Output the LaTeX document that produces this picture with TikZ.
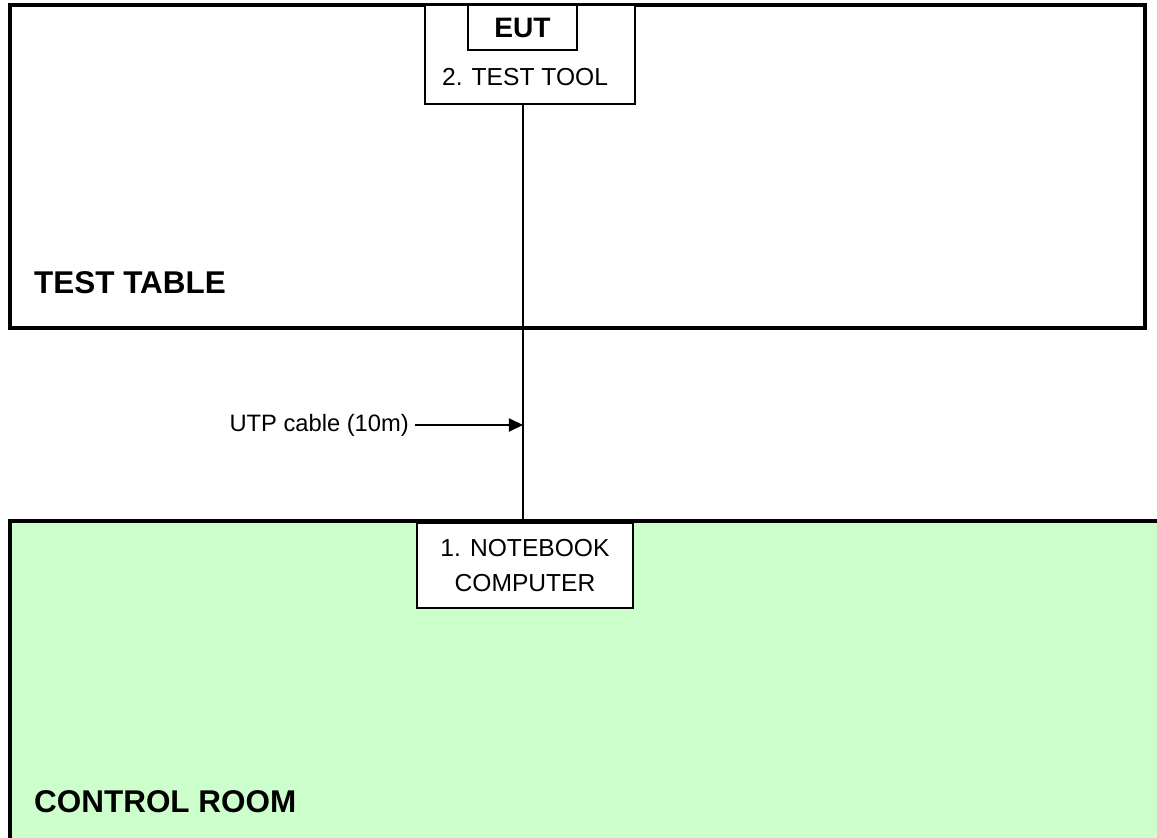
\documentclass[tikz,border=0pt]{standalone}
\usepackage{fontspec}
\setmainfont{Liberation Sans}
\usepackage{xcolor}
\usetikzlibrary{arrows.meta}

\definecolor{roomgreen}{HTML}{CCFFCC}

\begin{document}
\begin{tikzpicture}[
    x=0.02cm, y=-0.02cm,
    area/.style={line width=2.3pt},
    unit/.style={draw, line width=0.8pt, fill=white, inner sep=0pt},
    plain/.style={font=\fontsize{14}{20}\selectfont},
    areaname/.style={anchor=west, font=\bfseries\fontsize{17.9}{20}\selectfont}
]
\useasboundingbox (0,0) rectangle (1157,838);

% control room
\fill [roomgreen] (10,521) rectangle (1157,838);
\draw [area] (1157,521) -- (10,521) -- (10,838);
\node [areaname] (room) at (28,802) {CONTROL ROOM};

% test table
\draw [area] (10,5) rectangle (1145,328);
\node [areaname] (table) at (28,283) {TEST TABLE};

% equipment
\node [unit, minimum width=4.2cm, minimum height=1.98cm] (tool) at (530,54.5) {};
\node [unit, minimum width=2.18cm, minimum height=0.9cm,
       font=\bfseries\fontsize{16}{18}\selectfont] (eut) at (522.5,27.5) {EUT};
\node [plain] (toolname) at (525,77) {2. TEST TOOL};
\node [unit, plain, align=center, minimum width=4.32cm, minimum height=1.7cm] (nb) at (525,565.5)
    {1. NOTEBOOK\\COMPUTER};

% cable
\coordinate (cabletop) at (523,104);
\coordinate (cablebot) at (523,521);
\coordinate (cablemid) at (523,425);
\draw [line width=0.8pt] (cabletop) -- (cablebot);
\node [font=\fontsize{13.5}{16}\selectfont, anchor=east] (utp) at (415,425) {UTP cable (10m)};
\draw [line width=0.8pt, -{Triangle[length=8pt,width=7.5pt]}] (utp.east) -- (cablemid);
\end{tikzpicture}
\end{document}
